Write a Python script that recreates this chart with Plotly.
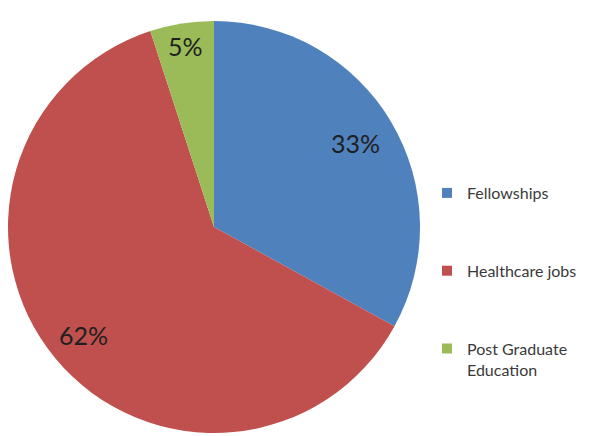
import math
import plotly.graph_objects as go

categories = ["Fellowships", "Healthcare jobs", "Post Graduate<br>Education"]
values = [33, 62, 5]
colors = ["#4F81BD", "#C0504D", "#9BBB59"]

W, H = 590, 436
# pie geometry (figure pixels)
CX, CY, R = 206, 219, 206
label_radius = [0.80, 0.825, 0.89]

fig = go.Figure()
fig.add_trace(go.Pie(
    labels=categories, values=values, sort=False, direction="clockwise", rotation=0,
    marker=dict(colors=colors, line=dict(width=0)),
    textinfo="none",
    domain=dict(x=[(CX - R) / W, (CX + R) / W], y=[(H - CY - R) / H, (H - CY + R) / H]),
    showlegend=False, hoverinfo="label+percent",
))
for cat, col in zip(categories, colors):
    fig.add_trace(go.Scatter(
        x=[None], y=[None], mode="markers", name=cat, legendgroup=cat,
        marker=dict(symbol="square", size=10, color=col),
    ))

total = sum(values)
cum = 0
annotations = []
for v, f in zip(values, label_radius):
    mid = (cum + v / 2) / total * 2 * math.pi
    cum += v
    px = CX + f * R * math.sin(mid)
    py = CY - f * R * math.cos(mid)
    annotations.append(dict(
        x=px / W, y=1 - py / H, xref="paper", yref="paper",
        text=f"{round(v / total * 100)}%", showarrow=False,
        font=dict(family="Lato", size=25, color="#1f1f1f"),
        xanchor="center", yanchor="middle",
    ))

fig.update_layout(
    width=W, height=H, margin=dict(l=0, r=0, t=0, b=0),
    paper_bgcolor="white", plot_bgcolor="white",
    xaxis=dict(visible=False), yaxis=dict(visible=False),
    annotations=annotations,
    legend=dict(x=419 / W, xanchor="left", y=1 - 168 / H, yanchor="top",
                font=dict(family="Lato", size=16, color="#3a3a3a"),
                tracegroupgap=54, valign="top", bgcolor="rgba(0,0,0,0)"),
)
fig.write_html("out.html")
